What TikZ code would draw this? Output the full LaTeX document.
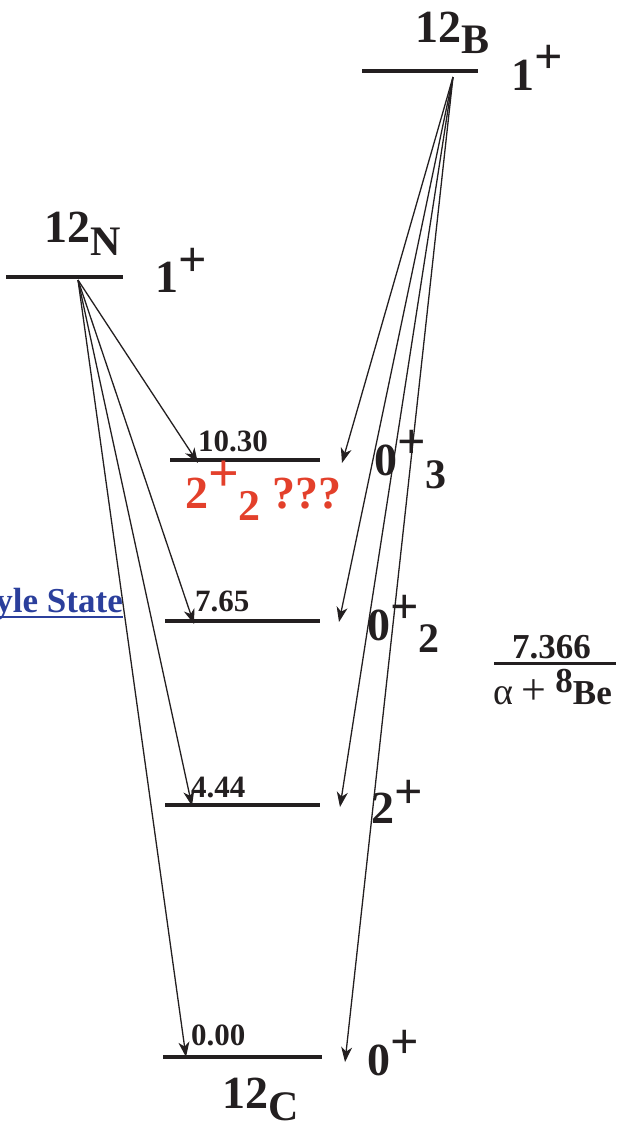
\documentclass[tikz,border=0pt]{standalone}
\usepackage{fontspec}
\setmainfont{Liberation Serif}
\usetikzlibrary{arrows.meta}
\definecolor{ink}{HTML}{231F20}
\definecolor{redq}{HTML}{E3402B}
\definecolor{bluel}{HTML}{2B3F9C}
\newcommand{\upp}[2]{\raisebox{#1pt}{#2}}
\newcommand{\pls}[1]{\raisebox{#1pt}{\fontsize{50}{50}\selectfont +}}
\begin{document}
\begin{tikzpicture}[x=1pt,y=-1pt,
  big/.style={font=\fontsize{46}{46}\selectfont\bfseries, text=ink, inner sep=0pt, anchor=base west},
  num/.style={font=\fontsize{31}{31}\selectfont\bfseries, text=ink, inner sep=0pt, anchor=base west},
  lev/.style={line width=4pt, draw=ink},
  arr/.style={line width=1.3pt, draw=ink, -{Stealth[length=15pt,width=11pt,inset=4.5pt]}}]
\useasboundingbox (0,0) rectangle (619,1122);

% levels
\coordinate (Bl) at (362,71);  \coordinate (Br) at (478,71);
\coordinate (Nl) at (6,277);   \coordinate (Nr) at (123,277);
\coordinate (Al) at (170,460); \coordinate (Ar) at (320,460);
\coordinate (Hl) at (165,621); \coordinate (Hr) at (320,621);
\coordinate (Fl) at (165,805); \coordinate (Fr) at (320,805);
\coordinate (Gl) at (163,1057);\coordinate (Gr) at (322,1057);
\draw[lev] (Bl) -- (Br);
\draw[lev] (Nl) -- (Nr);
\draw[lev] (Al) -- (Ar);
\draw[lev] (Hl) -- (Hr);
\draw[lev] (Fl) -- (Fr);
\draw[lev] (Gl) -- (Gr);

% threshold
\coordinate (Tl) at (494,663); \coordinate (Tr) at (616,663);
\draw[line width=3pt, draw=ink] (Tl) -- (Tr);

% arrow origins and tips
\coordinate (Bo) at (453,77);
\coordinate (No) at (78,280);
\coordinate (nA) at (198,463);
\coordinate (nH) at (194,624);
\coordinate (nF) at (192,806);
\coordinate (nG) at (186,1057);
\coordinate (bA) at (342,463);
\coordinate (bH) at (339,622);
\coordinate (bF) at (340,807);
\coordinate (bG) at (345,1062);
\draw[arr] (No) -- (nA);
\draw[arr] (No) -- (nH);
\draw[arr] (No) -- (nF);
\draw[arr] (No) -- (nG);
\draw[arr] (Bo) -- (bA);
\draw[arr] (Bo) -- (bH);
\draw[arr] (Bo) -- (bF);
\draw[arr] (Bo) -- (bG);

% nucleus labels
\node[big] (lB) at (415,42) {12\upp{-11}{\fontsize{42}{42}\selectfont B}};
\node[big] (jB) at (511,90) {1\pls{17}};
\node[big] (lN) at (44,242) {12\upp{-13}{\fontsize{42}{42}\selectfont N}};
\node[big] (jN) at (155,292) {1\pls{16}};
\node[big] (lC) at (222,1108) {12\upp{-12}{\fontsize{42}{42}\selectfont C}};

% energies
\node[num] (eA) at (198,451) {10.30};
\node[num] (eH) at (195,611) {7.65};
\node[num] (eF) at (191,797) {4.44};
\node[num] (eG) at (191,1045) {0.00};

% spins
\node[big] (sA) at (374,475) {0\pls{17}\upp{-13}{\fontsize{42}{42}\selectfont 3}};
\node[big] (sH) at (367,640) {0\pls{17}\upp{-12}{\fontsize{42}{42}\selectfont 2}};
\node[big] (sF) at (371,823) {2\pls{15}};
\node[big] (sG) at (367,1075) {0\pls{17}};
\node[big, text=redq] (sR) at (185,508) {2\raisebox{17pt}{\fontsize{54}{54}\selectfont +}\upp{-12}{\fontsize{44}{44}\selectfont 2} ???};

% threshold labels
\node[font=\fontsize{35}{35}\selectfont\bfseries, text=ink, inner sep=0pt, anchor=base west] (t1) at (512,658) {7.366};
\node[font=\fontsize{35}{35}\selectfont, text=ink, inner sep=0pt, anchor=base west] (t2) at (493,704) {{\fontsize{38}{38}\selectfont α} {\fontsize{44}{44}\selectfont +} \upp{12}{\bfseries 8}\textbf{Be}};

% Hoyle state link
\node[font=\fontsize{35}{35}\selectfont\bfseries, text=bluel, inner sep=0pt, anchor=base east] (hy) at (123,612) {yle State};
\draw[bluel, line width=2pt] ([yshift=-5pt]hy.base west) -- ([yshift=-5pt]hy.base east);
\end{tikzpicture}
\end{document}
